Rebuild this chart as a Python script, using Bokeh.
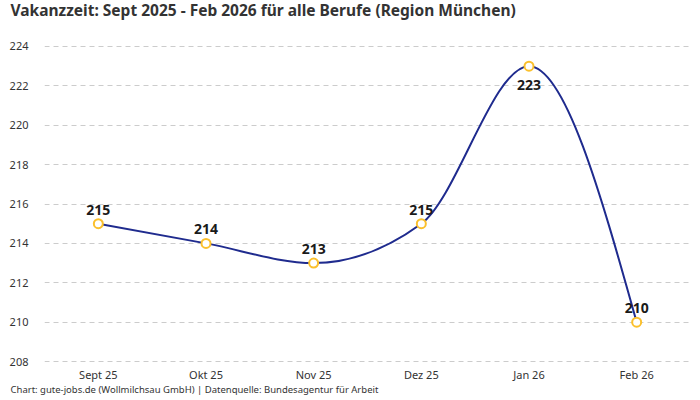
import numpy as np
from bokeh.plotting import figure
from bokeh.models import ColumnDataSource, Range1d, FixedTicker, Title
from bokeh.core.properties import value
from bokeh.embed import file_html
from bokeh.resources import INLINE

# Data
months = ["Sept 25", "Okt 25", "Nov 25", "Dez 25", "Jan 26", "Feb 26"]
vakanzzeit = [215, 214, 213, 215, 223, 210]
y_ticks = [208, 210, 212, 214, 216, 218, 220, 222, 224]

FONT = "Noto Sans"
TEXT = "#333333"
LINE = "#1f2b8e"
MARKER = "#fbc02d"

x = np.arange(len(months), dtype=float)
y = np.array(vakanzzeit, dtype=float)


def monotone_slopes(x, y):
    """Tangents like d3's curveMonotoneX."""
    n = len(x)
    h = np.diff(x)
    s = np.diff(y) / h
    t = np.zeros(n)
    for i in range(1, n - 1):
        p = (s[i - 1] * h[i] + s[i] * h[i - 1]) / (h[i - 1] + h[i])
        t[i] = (np.sign(s[i - 1]) + np.sign(s[i])) * min(
            abs(s[i - 1]), abs(s[i]), 0.5 * abs(p))
    t[0] = (3 * s[0] - t[1]) / 2
    t[-1] = (3 * s[-1] - t[-2]) / 2
    return t


t = monotone_slopes(x, y)
dx = np.diff(x) / 3
curve = ColumnDataSource(dict(
    x0=x[:-1], y0=y[:-1], x1=x[1:], y1=y[1:],
    cx0=x[:-1] + dx, cy0=y[:-1] + dx * t[:-1],
    cx1=x[1:] - dx, cy1=y[1:] - dx * t[1:],
))

# label below the peak, above everywhere else
offsets = [14 if v == max(vakanzzeit) else -9 for v in vakanzzeit]
baselines = ["top" if v == max(vakanzzeit) else "bottom" for v in vakanzzeit]
points = ColumnDataSource(dict(
    x=x, y=y, label=[str(v) for v in vakanzzeit],
    off=offsets, base=baselines,
))

p = figure(
    frame_width=646, frame_height=319,
    x_range=Range1d(-0.5, len(months) - 0.5),
    y_range=Range1d(207.9, 224.1),
    output_backend="svg", toolbar_location=None,
    min_border_left=52, min_border_right=2, min_border_top=0,
    min_border_bottom=40,
    styles={"margin-top": "-27px", "margin-left": "-8px",
            "margin-bottom": "-60px"},
)
p.outline_line_color = None
p.background_fill_color = "white"

p.title.text = "Vakanzzeit: Sept 2025 - Feb 2026 für alle Berufe (Region München)"
p.title.text_font = FONT
p.title.text_font_size = "15.5px"
p.title.text_font_style = "bold"
p.title.text_color = TEXT
p.title.offset = -34
p.title.standoff = 47

p.add_layout(Title(
    text="Chart: gute-jobs.de (Wollmilchsau GmbH) | Datenquelle: Bundesagentur für Arbeit",
    text_font=FONT, text_font_size="9.5px", text_font_style="normal",
    text_color=TEXT, align="left", offset=-34, standoff=-8,
), "below")

p.bezier(x0="x0", y0="y0", x1="x1", y1="y1", cx0="cx0", cy0="cy0",
         cx1="cx1", cy1="cy1", source=curve, line_color=LINE, line_width=2)
p.scatter("x", "y", source=points, size=9, fill_color="white",
          line_color=MARKER, line_width=2)
p.text("x", "y", text="label", source=points, y_offset="off",
       text_baseline="base", text_align="center",
       text_font=value(FONT), text_font_size="14px",
       text_font_style="bold", text_color="#1a1a1a")

p.xaxis.ticker = FixedTicker(ticks=list(x))
p.xaxis.major_label_overrides = {float(i): m for i, m in enumerate(months)}
p.yaxis.ticker = FixedTicker(ticks=y_ticks)
for ax in (p.xaxis, p.yaxis):
    ax.axis_line_color = None
    ax.major_tick_line_color = None
    ax.minor_tick_line_color = None
    ax.major_label_text_font = FONT
    ax.major_label_text_font_size = "11px"
    ax.major_label_text_color = TEXT
p.yaxis.major_label_standoff = 10
p.xaxis.major_label_standoff = -3

p.xgrid.grid_line_color = None
p.ygrid.grid_line_color = "#cccccc"
p.ygrid.grid_line_dash = "5 4"
p.ygrid.grid_line_width = 1

open("out.html", "w").write(file_html(p, INLINE))
